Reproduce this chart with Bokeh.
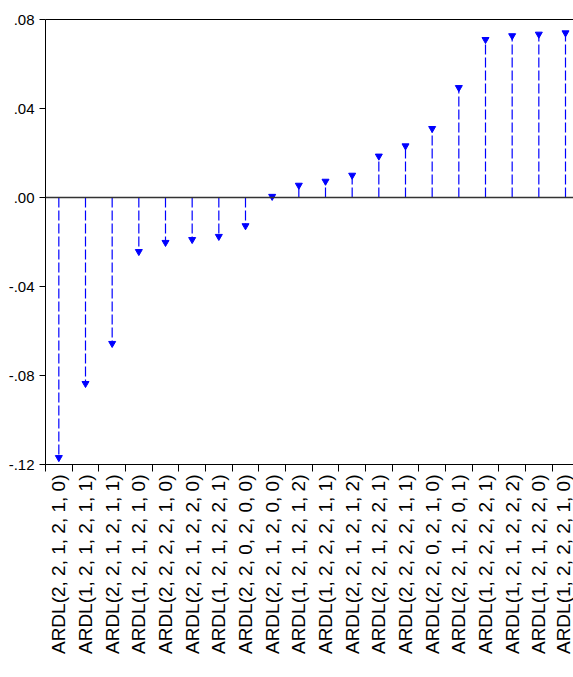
import math
from bokeh.plotting import figure
from bokeh.models import Range1d, FixedTicker, LinearAxis, Span, ColumnDataSource
from bokeh.embed import file_html
from bokeh.resources import INLINE

models = [
    "ARDL(2, 2, 1, 2, 1, 0)", "ARDL(1, 2, 1, 2, 1, 1)", "ARDL(2, 2, 1, 2, 1, 1)",
    "ARDL(1, 2, 1, 2, 1, 0)", "ARDL(2, 2, 2, 2, 1, 0)", "ARDL(2, 2, 1, 2, 2, 0)",
    "ARDL(1, 2, 1, 2, 2, 1)", "ARDL(2, 2, 0, 2, 0, 0)", "ARDL(2, 2, 1, 2, 0, 0)",
    "ARDL(1, 2, 1, 2, 1, 2)", "ARDL(1, 2, 2, 2, 1, 1)", "ARDL(2, 2, 1, 2, 1, 2)",
    "ARDL(2, 2, 1, 2, 2, 1)", "ARDL(2, 2, 2, 2, 1, 1)", "ARDL(2, 2, 0, 2, 1, 0)",
    "ARDL(2, 2, 1, 2, 0, 1)", "ARDL(1, 2, 2, 2, 2, 1)", "ARDL(1, 2, 1, 2, 2, 2)",
    "ARDL(1, 2, 1, 2, 2, 0)", "ARDL(1, 2, 2, 2, 1, 0)",
]
criterion = [
    -0.1169, -0.0836, -0.0656, -0.0243, -0.0202, -0.0189, -0.0175, -0.0127, 0.0005,
    0.0055, 0.0073, 0.0100, 0.0186, 0.0232, 0.0310, 0.0494, 0.0710, 0.0727, 0.0734, 0.0740,
]
y_ticks = [-0.12, -0.08, -0.04, 0.0, 0.04, 0.08]
y_tick_labels = ["-.12", "-.08", "-.04", ".00", ".04", ".08"]

pos = [i + 0.5 for i in range(len(models))]
src = ColumnDataSource(dict(x=pos, y=criterion, y0=[0.0] * len(pos)))

p = figure(width=573, height=677, output_backend="svg", toolbar_location=None,
           x_range=Range1d(0, 19.8), y_range=Range1d(-0.12, 0.08),
           x_axis_location=None, y_axis_location=None,
           min_border_left=45, min_border_top=19, min_border_bottom=213, min_border_right=0)
p.grid.visible = False
p.outline_line_color = None
p.background_fill_color = "white"
p.border_fill_color = "white"

# left axis
ya = LinearAxis(ticker=FixedTicker(ticks=y_ticks, minor_ticks=[]))
ya.major_label_overrides = {t: l for t, l in zip(y_ticks, y_tick_labels)}
ya.major_label_text_font = "Liberation Sans"
ya.major_label_text_font_size = "15px"
ya.major_label_text_color = "black"
ya.major_tick_in = 0
ya.major_tick_out = 6
ya.major_label_standoff = 5
ya.axis_line_color = "black"
ya.major_tick_line_color = "black"
p.add_layout(ya, "left")

# bottom axis with category labels
xa = LinearAxis(ticker=FixedTicker(ticks=pos, minor_ticks=list(range(len(models)))))
xa.major_label_overrides = {t: m for t, m in zip(pos, models)}
xa.major_label_orientation = math.pi / 2
xa.major_label_text_font = "Liberation Sans"
xa.major_label_text_font_size = "19px"
xa.major_label_text_color = "black"
xa.major_tick_in = 0
xa.major_tick_out = 0
xa.major_tick_line_color = None
xa.minor_tick_in = 0
xa.minor_tick_out = 7
xa.minor_tick_line_color = "black"
xa.major_label_standoff = 3
xa.axis_line_color = "black"
p.add_layout(xa, "below")

# top frame line
ta = LinearAxis(ticker=FixedTicker(ticks=[], minor_ticks=[]))
ta.major_tick_line_color = None
ta.minor_tick_line_color = None
ta.major_label_text_font_size = "0px"
ta.major_label_standoff = 0
ta.axis_line_color = "black"
p.add_layout(ta, "above")

p.add_layout(Span(location=0, dimension="width", line_color="#333333", line_width=1.3))

p.segment(x0="x", y0="y0", x1="x", y1="y", source=src, line_color="#0000FF",
          line_width=1.2, line_dash="10 3")
p.scatter(x="x", y="y", source=src, marker="inverted_triangle", size=7,
          fill_color="#0000FF", line_color="#0000FF")

open("out.html", "w").write(file_html(p, INLINE))
